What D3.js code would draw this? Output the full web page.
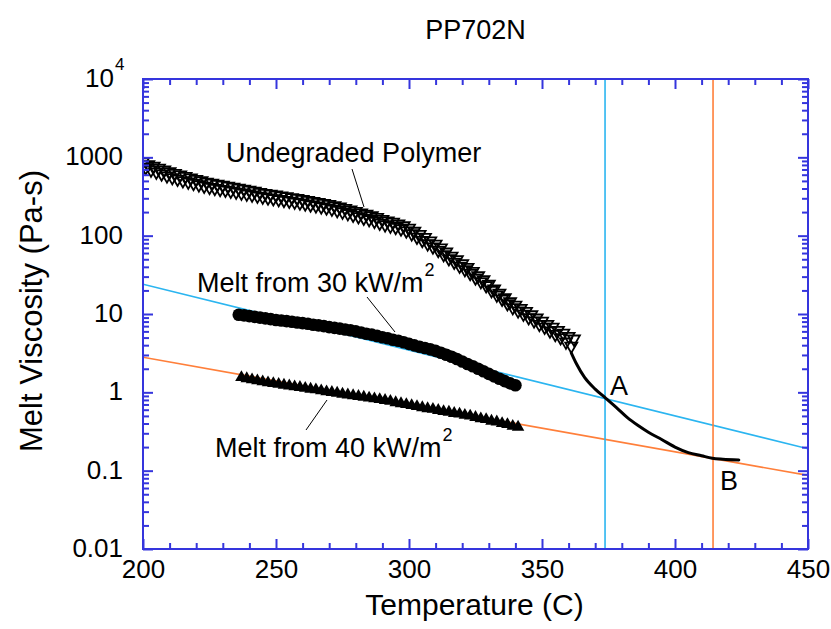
<!DOCTYPE html>
<html><head><meta charset="utf-8">
<script src="https://cdn.jsdelivr.net/npm/d3@7/dist/d3.min.js"></script>
<style>body{margin:0;background:#fff} text{font-family:"Liberation Sans",Arial,sans-serif;fill:#000}</style>
</head><body><svg id="c" width="831" height="629"></svg>
<script>
// ---------- data ----------
const title = "PP702N";
const xLabel = "Temperature (C)";
const yLabel = "Melt Viscosity (Pa-s)";
const xTickLabels = [200, 250, 300, 350, 400, 450];
const xMinorTicks = [210,220,230,240,260,270,280,290,310,320,330,340,360,370,380,390,410,420,430,440];
const yTickValues = [0.01, 0.1, 1, 10, 100, 1000, 10000];
const yTickLabels = ["0.01", "0.1", "1", "10", "100", "1000", "10^4"];

// undegraded polymer, run 1 and run 2
const undegradedT = [200,202,204,206,208,210,212,214,216,218,220,222,224,226,228,230,232,234,236,238,240,242,244,246,248,250,252,254,256,258,260,262,264,266,268,270,272,274,276,278,280,282,284,286,288,290,292,294,296,298,300,302,304,306,308,310,312,314,316,318,320,322,324,326,328,330,332,334,336,338,340,342,344,346,348,350,352,354,356,358,360,362];
const undegradedV = [880,810,770,730,690,655,625,598,572,548,524,503,484,468,454,442,430,418,406,394,382,370,358,348,339,331,323,315,307,299,291,283,275,267,259,251,242,233,224,214,205,196,188,180,171,162,155,149,142,134,125,114,104,95,86,78,70,62,55,49.5,44,39.5,35,31,27.5,24,21,18.5,16.2,14.4,13,11.8,10.8,9.8,8.9,8.1,7.4,6.8,6.2,5.7,5.2,4.8];
const undegraded2T = [201,203,205,207,209,211,213,215,217,219,221,223,225,227,229,231,233,235,237,239,241,243,245,247,249,251,253,255,257,259,261,263,265,267,269,271,273,275,277,279,281,283,285,287,289,291,293,295,297,299,301,303,305,307,309,311,313,315,317,319,321,323,325,327,329,331,333,335,337,339,341,343,345,347,349,351,353,355,357,359,361];
const undegraded2V = [740,690,650,615,582,553,528,505,485,466,447,430,415,402,391,381,371,361,351,341,331,321,312,304,297,290,283,276,269,262,255,248,241,234,227,219,210,201,192,183,175,168,161,153,145,138,133,128,122,115,106,96,87,79,72,65,57.5,51,46,41,37,33,29,26,23,20,17.5,15.5,13.6,12.1,11,10,9.0,8.2,7.4,6.8,6.1,5.5,5.0,4.4,3.9];

// degraded melt curve (solid line)
const curveT = [361,363,366,370,374,378,382,386,390,395,400,405,410,414,418,424];
const curveV = [3.2,2.3,1.55,1.1,0.84,0.64,0.48,0.38,0.31,0.25,0.2,0.17,0.155,0.144,0.14,0.137];

const melt30T = [236,238,240,242,244,246,248,250,252,254,256,258,260,262,264,266,268,270,272,274,276,278,280,282,284,286,288,290,292,294,296,298,300,302,304,306,308,310,312,314,316,318,320,322,324,326,328,330,332,334,336,338,340];
const melt30V = [9.8,9.6,9.4,9.2,9.0,8.8,8.6,8.4,8.25,8.1,7.95,7.8,7.65,7.5,7.3,7.15,7.0,6.8,6.65,6.5,6.35,6.2,6.0,5.8,5.6,5.45,5.25,5.05,4.9,4.7,4.55,4.35,4.15,3.98,3.82,3.68,3.54,3.38,3.2,3.02,2.84,2.66,2.48,2.3,2.15,2.0,1.86,1.72,1.6,1.49,1.39,1.3,1.23];

const melt40T = [237,239,241,243,245,247,249,251,253,255,257,259,261,263,265,267,269,271,273,275,277,279,281,283,285,287,289,291,293,295,297,299,301,303,305,307,309,311,313,315,317,319,321,323,325,327,329,331,333,335,337,339,341];
const melt40V = [1.55,1.5,1.45,1.41,1.37,1.33,1.3,1.27,1.24,1.21,1.18,1.16,1.13,1.1,1.08,1.05,1.02,1.0,0.98,0.95,0.93,0.91,0.89,0.87,0.85,0.83,0.81,0.79,0.77,0.74,0.72,0.7,0.68,0.66,0.64,0.62,0.61,0.59,0.57,0.56,0.54,0.53,0.51,0.5,0.48,0.46,0.45,0.43,0.42,0.4,0.39,0.37,0.36];

const cyanLineT = [200, 450];
const cyanLineV = [24, 0.19];
const orangeLineT = [200, 450];
const orangeLineV = [2.8, 0.087];
const pointAT = 373.7;
const pointBT = 414.3;

// ---------- layout ----------
const L = 143, R = 808, T = 79, B = 549;
const axisColor = "#3535dd";
const cyan = "#2bb5f0";
const orange = "#ff7f3a";

const svg = d3.select("#c");
const x = d3.scaleLinear().domain([200, 450]).range([L, R]);
const y = d3.scaleLog().domain([0.01, 10000]).range([B, T]);
const zip = (a, b) => a.map((v, i) => [v, b[i]]);

svg.append("clipPath").attr("id", "pc").append("rect")
  .attr("x", L).attr("y", T).attr("width", R - L).attr("height", B - T);
const plot = svg.append("g").attr("clip-path", "url(#pc)");
const line = d3.line().x(d => x(d[0])).y(d => y(d[1]));

// reference lines
plot.append("path").datum(zip(cyanLineT, cyanLineV)).attr("d", line)
  .attr("fill", "none").attr("stroke", cyan).attr("stroke-width", 1.6);
plot.append("path").datum(zip(orangeLineT, orangeLineV)).attr("d", line)
  .attr("fill", "none").attr("stroke", orange).attr("stroke-width", 1.6);
plot.append("line").attr("x1", x(pointAT)).attr("x2", x(pointAT)).attr("y1", T).attr("y2", B)
  .attr("stroke", cyan).attr("stroke-width", 1.6);
plot.append("line").attr("x1", x(pointBT)).attr("x2", x(pointBT)).attr("y1", T).attr("y2", B)
  .attr("stroke", orange).attr("stroke-width", 1.6);

// degraded curve
plot.append("path").datum(zip(curveT, curveV)).attr("d", line.curve(d3.curveMonotoneX))
  .attr("fill", "none").attr("stroke", "#000").attr("stroke-width", 3).attr("stroke-linecap", "round");

// undegraded - open down triangles
const triPath = d3.symbol().type(d3.symbolTriangle).size(62)();
[zip(undegradedT, undegradedV), zip(undegraded2T, undegraded2V)].forEach(ser => {
  plot.append("g").selectAll("path").data(ser).join("path")
    .attr("d", triPath)
    .attr("transform", d => `translate(${x(d[0])},${y(d[1])}) rotate(180)`)
    .attr("fill", "none").attr("stroke", "#000").attr("stroke-width", 1.8);
});

// melt 30 - filled circles
plot.append("g").selectAll("circle").data(zip(melt30T, melt30V)).join("circle")
  .attr("cx", d => x(d[0])).attr("cy", d => y(d[1])).attr("r", 6.3).attr("fill", "#000");

// melt 40 - filled up triangles
plot.append("g").selectAll("path").data(zip(melt40T, melt40V)).join("path")
  .attr("d", d3.symbol().type(d3.symbolTriangle).size(68)())
  .attr("transform", d => `translate(${x(d[0])},${y(d[1])})`)
  .attr("fill", "#000");

// ---------- axes ----------
const yMinor = [];
for (let i = 0; i < yTickValues.length - 1; i++) for (let k = 2; k <= 9; k++) yMinor.push(yTickValues[i] * k);

function styleAxis(g) {
  g.select(".domain").remove();
  g.selectAll("line").attr("stroke", axisColor).attr("stroke-width", 2);
}
svg.append("g").attr("transform", `translate(0,${B})`)
  .call(d3.axisBottom(x).tickValues(xMinorTicks).tickSize(-6).tickFormat(""))
  .call(styleAxis);
svg.append("g").attr("transform", `translate(0,${B})`)
  .call(d3.axisBottom(x).tickValues(xTickLabels).tickSize(-10).tickFormat(d3.format("d")))
  .call(styleAxis)
  .call(g => g.selectAll("text").attr("font-size", 26).attr("fill", "#000")
    .attr("dy", null).attr("y", 29).attr("font-family", "Liberation Sans, Arial, sans-serif"));
svg.append("g").attr("transform", `translate(0,${T})`)
  .call(d3.axisTop(x).tickValues(xMinorTicks).tickSize(-6).tickFormat(""))
  .call(styleAxis);
svg.append("g").attr("transform", `translate(0,${T})`)
  .call(d3.axisTop(x).tickValues(xTickLabels).tickSize(-10).tickFormat(""))
  .call(styleAxis);
svg.append("g").attr("transform", `translate(${L},0)`)
  .call(d3.axisLeft(y).tickValues(yMinor).tickSize(-6).tickFormat(""))
  .call(styleAxis);
svg.append("g").attr("transform", `translate(${L},0)`)
  .call(d3.axisLeft(y).tickValues(yTickValues).tickSize(-10).tickFormat(""))
  .call(styleAxis);
svg.append("g").attr("transform", `translate(${R},0)`)
  .call(d3.axisRight(y).tickValues(yMinor).tickSize(-6).tickFormat(""))
  .call(styleAxis);
svg.append("g").attr("transform", `translate(${R},0)`)
  .call(d3.axisRight(y).tickValues(yTickValues).tickSize(-10).tickFormat(""))
  .call(styleAxis);

// y tick labels
yTickValues.forEach((v, i) => {
  const lab = yTickLabels[i];
  const t = svg.append("text").attr("x", 123).attr("y", y(v) + 8)
    .attr("text-anchor", "end").attr("font-size", 26);
  if (lab.startsWith("10^")) {
    t.attr("x", 114).text("10");
    svg.append("text").attr("x", 115).attr("y", y(v) - 9).attr("font-size", 17).text(lab.slice(3));
  } else t.text(lab);
});

// frame
svg.append("rect").attr("x", L).attr("y", T).attr("width", R - L).attr("height", B - T)
  .attr("fill", "none").attr("stroke", axisColor).attr("stroke-width", 2);

// titles
svg.append("text").attr("x", (L + R) / 2).attr("y", 39).attr("text-anchor", "middle")
  .attr("font-size", 27).text(title);
svg.append("text").attr("x", (L + R) / 2 - 1).attr("y", 615).attr("text-anchor", "middle")
  .attr("font-size", 30).text(xLabel);
svg.append("text").attr("transform", `translate(42,${(T + B) / 2 - 3}) rotate(-90)`)
  .attr("text-anchor", "middle").attr("font-size", 31).text(yLabel);

// annotations
function ann(xp, yp, main, sup) {
  const t = svg.append("text").attr("x", xp).attr("y", yp).attr("font-size", 27);
  t.append("tspan").text(main);
  if (sup) t.append("tspan").attr("dy", -16).attr("dx", 1).attr("font-size", 18).text(sup);
}
ann(226, 162, "Undegraded Polymer");
ann(197, 292, "Melt from 30 kW/m", "2");
ann(215, 457, "Melt from 40 kW/m", "2");
ann(610, 395, "A");
ann(720, 490, "B");

const leaders = [[352,169,364,207],[367,297,395,332],[327,400,306,430]];
leaders.forEach(l => svg.append("line").attr("x1", l[0]).attr("y1", l[1]).attr("x2", l[2]).attr("y2", l[3])
  .attr("stroke", "#000").attr("stroke-width", 1));
</script></body></html>
